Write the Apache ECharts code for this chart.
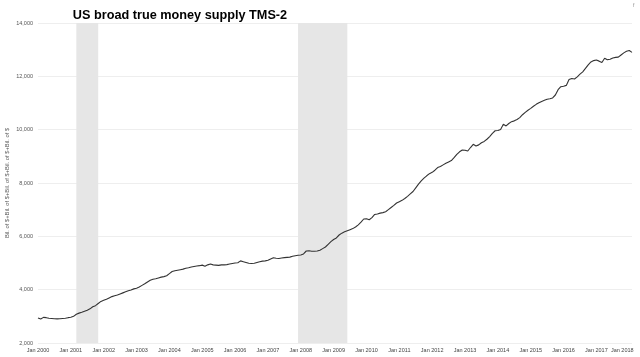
<!DOCTYPE html>
<html>
<head>
<meta charset="utf-8">
<script src="https://cdn.jsdelivr.net/npm/echarts@6/dist/echarts.min.js"></script>
<style>
html,body{margin:0;padding:0;background:#fff;}
#chart{width:640px;height:357px;}
</style>
</head>
<body>
<div id="chart"></div>
<script>
// Monthly TMS-2 values, billions of $, Jan 2000 .. Feb 2018
const tms2_2000 = [2940, 2900, 2960, 2950, 2930, 2920, 2910, 2905, 2910, 2920, 2930, 2950];
const tms2_2001 = [2965, 3000, 3080, 3120, 3150, 3190, 3230, 3280, 3360, 3400, 3480, 3560];
const tms2_2002 = [3600, 3640, 3690, 3740, 3770, 3800, 3840, 3880, 3920, 3960, 3990, 4030];
const tms2_2003 = [4050, 4100, 4160, 4220, 4290, 4350, 4390, 4410, 4440, 4470, 4490, 4520];
const tms2_2004 = [4600, 4680, 4710, 4730, 4750, 4770, 4800, 4820, 4850, 4870, 4890, 4900];
const tms2_2005 = [4920, 4880, 4930, 4960, 4930, 4920, 4910, 4930, 4930, 4940, 4960, 4980];
const tms2_2006 = [5000, 5010, 5080, 5050, 5020, 4990, 4980, 4990, 5020, 5050, 5070, 5080];
const tms2_2007 = [5100, 5150, 5200, 5180, 5170, 5190, 5200, 5210, 5220, 5250, 5270, 5290];
const tms2_2008 = [5300, 5340, 5450, 5460, 5440, 5440, 5450, 5480, 5540, 5600, 5700, 5800];
const tms2_2009 = [5880, 5940, 6050, 6120, 6170, 6210, 6250, 6290, 6350, 6430, 6530, 6650];
const tms2_2010 = [6660, 6620, 6700, 6820, 6840, 6870, 6890, 6920, 7000, 7080, 7160, 7250];
const tms2_2011 = [7300, 7350, 7420, 7500, 7590, 7680, 7820, 7960, 8080, 8180, 8270, 8350];
const tms2_2012 = [8400, 8480, 8580, 8620, 8680, 8740, 8790, 8840, 8950, 9070, 9170, 9240];
const tms2_2013 = [9230, 9200, 9330, 9450, 9390, 9430, 9510, 9560, 9640, 9740, 9860, 9960];
const tms2_2014 = [9970, 10010, 10200, 10140, 10230, 10300, 10330, 10380, 10450, 10560, 10650, 10730];
const tms2_2015 = [10800, 10880, 10950, 11010, 11060, 11100, 11140, 11160, 11190, 11300, 11500, 11610];
const tms2_2016 = [11630, 11660, 11880, 11920, 11900, 11980, 12080, 12170, 12300, 12430, 12540, 12590];
const tms2_2017 = [12610, 12570, 12520, 12680, 12620, 12640, 12690, 12710, 12720, 12800, 12880, 12940];
const tms2_2018 = [12970, 12900];

const startYear = 2000;
const monthNames = ['Jan','Feb','Mar','Apr','May','Jun','Jul','Aug','Sep','Oct','Nov','Dec'];

// Recession periods (category keys)
const recessions = [['2001-03', '2001-11'], ['2007-12', '2009-06']];

const yTicks = { min: 2000, max: 14000, step: 2000 };

const values = [].concat(tms2_2000, tms2_2001, tms2_2002, tms2_2003, tms2_2004, tms2_2005,
  tms2_2006, tms2_2007, tms2_2008, tms2_2009, tms2_2010, tms2_2011, tms2_2012, tms2_2013,
  tms2_2014, tms2_2015, tms2_2016, tms2_2017, tms2_2018);

const categories = values.map((v, i) => {
  const y = startYear + Math.floor(i / 12);
  const m = i % 12 + 1;
  return y + '-' + (m < 10 ? '0' + m : m);
});
const lastYearIdx = (categories.length - 1) - ((categories.length - 1) % 12);

const FONT = 'Liberation Sans, Arial, sans-serif';
const chart = echarts.init(document.getElementById('chart'), null, { renderer: 'canvas' });
chart.setOption({
  animation: false,
  backgroundColor: '#fff',
  title: {
    text: 'US broad true money supply TMS-2',
    left: 175, top: 4, textAlign: 'center',
    textStyle: { fontFamily: FONT, fontWeight: 'bold', fontSize: 12.7, color: '#000' }
  },
  graphic: [{
    type: 'text', left: 633, top: 3,
    style: { text: 'f', fontSize: 5, fill: '#888', fontFamily: FONT }
  }],
  grid: { left: 38, right: 8, top: 23, bottom: 14, containLabel: false, outerBoundsMode: 'none' },
  xAxis: {
    type: 'category',
    data: categories,
    boundaryGap: false,
    axisLine: { show: false },
    axisTick: { show: false },
    splitLine: { show: false },
    axisLabel: {
      interval: (i) => i % 12 === 0,
      margin: 4,
      fontSize: 5.5,
      color: '#444',
      fontFamily: FONT,
      hideOverlap: false,
      formatter: (val, idx) => {
        const y = val.slice(0, 4);
        const txt = monthNames[parseInt(val.slice(5), 10) - 1] + ' ' + y;
        return idx === lastYearIdx ? '{e|' + txt + '}' : txt;
      },
      rich: { e: { padding: [0, 14, 0, 0], fontSize: 5.5, color: '#444', fontFamily: FONT } }
    }
  },
  yAxis: {
    type: 'value',
    min: yTicks.min, max: yTicks.max, interval: yTicks.step,
    name: 'Bil. of $+Bil. of $+Bil. of $+Bil. of $+Bil. of $',
    nameLocation: 'middle',
    nameGap: 28,
    nameMoveOverlap: false,
    nameTextStyle: { fontSize: 5.8, color: '#555', fontFamily: FONT },
    axisLine: { show: false },
    axisTick: { show: false },
    splitLine: { lineStyle: { color: '#eeeeee', width: 1 } },
    axisLabel: {
      margin: 5, fontSize: 5.5, color: '#555',
      fontFamily: FONT,
      formatter: (v) => v.toLocaleString('en-US')
    }
  },
  series: [{
    type: 'line',
    data: values,
    showSymbol: false,
    symbol: 'none',
    lineStyle: { color: '#333', width: 1.1 },
    markArea: {
      silent: true,
      itemStyle: { color: '#e6e6e6' },
      data: recessions.map(r => [{ xAxis: r[0] }, { xAxis: r[1] }])
    },
    z: 3
  }]
});
</script>
</body>
</html>
